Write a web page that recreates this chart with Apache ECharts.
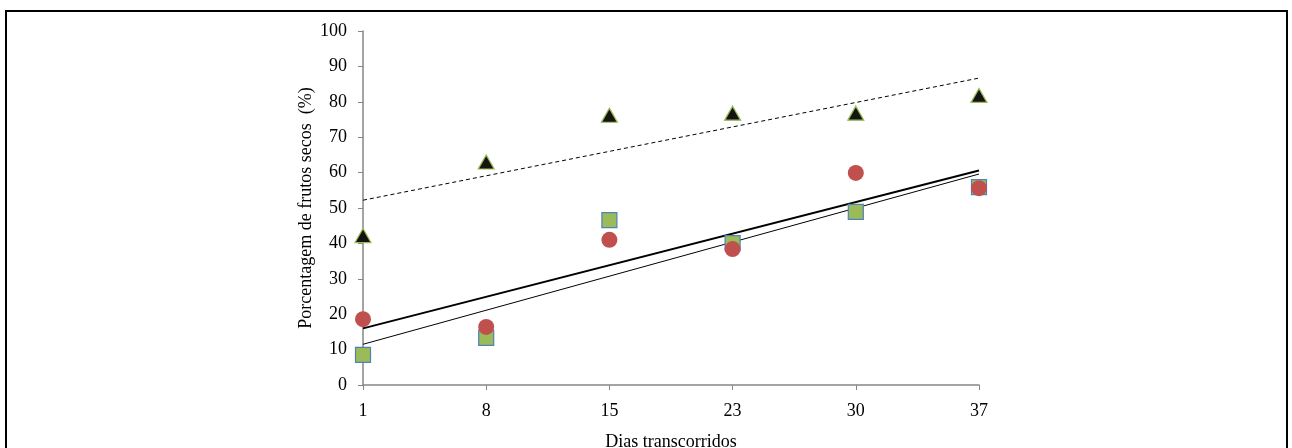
<!DOCTYPE html>
<html><head><meta charset="utf-8">
<script src="https://cdn.jsdelivr.net/npm/echarts@6/dist/echarts.min.js"></script>
<style>html,body{margin:0;padding:0;background:#fff}#c{width:1292px;height:448px}</style>
</head><body><div id="c"></div>
<script>
const categories = ['1','8','15','23','30','37'];
const triangles = [42.2, 63, 76.2, 76.8, 76.8, 81.8];
const circles = [18.6, 16.4, 41, 38.4, 59.9, 55.6];
const squares = [8.5, 13.3, 46.6, 40.1, 48.9, 55.9];
// trend line endpoints (first and last category)
const trendTriangles = [52.2, 86.7];
const trendCircles = [16.0, 60.6];
const trendSquares = [11.5, 59.6];
const yTicks = [0,10,20,30,40,50,60,70,80,90,100];

function endpoints(t){ const d = categories.map(()=> '-'); d[0]=t[0]; d[d.length-1]=t[1]; return d; }
const font = '"Liberation Serif", "Times New Roman", serif';
const chart = echarts.init(document.getElementById('c'), null, {renderer:'canvas'});
chart.setOption({
  animation:false,
  backgroundColor:'#fff',
  grid:{left:363,right:313,top:31,bottom:63,containLabel:false,outerBoundsMode:'none'},
  xAxis:{type:'category',data:categories,boundaryGap:false,
    name:'Dias transcorridos',nameLocation:'middle',nameGap:48,
    nameTextStyle:{fontFamily:font,fontSize:18,color:'#000'},
    axisLine:{lineStyle:{color:'#868686',width:1.5}},
    axisTick:{alignWithLabel:true,length:5,lineStyle:{color:'#868686'}},
    axisLabel:{fontFamily:font,fontSize:18,color:'#000',margin:17},
    splitLine:{show:false}},
  yAxis:{type:'value',min:yTicks[0],max:yTicks[yTicks.length-1],interval:10,
    name:'Porcentagem de frutos secos  (%)',nameLocation:'middle',nameGap:48,
    nameTextStyle:{fontFamily:font,fontSize:18,color:'#000'},
    axisLine:{show:true,lineStyle:{color:'#868686',width:1.5}},
    axisTick:{show:true,length:5,lineStyle:{color:'#868686'}},
    axisLabel:{fontFamily:font,fontSize:18,color:'#000',margin:16},
    splitLine:{show:false}},
  series:[
    {type:'line',data:endpoints(trendTriangles),connectNulls:true,showSymbol:false,symbol:'none',
      lineStyle:{color:'#000',width:1,type:[4,3]},z:1},
    {type:'line',data:endpoints(trendCircles),connectNulls:true,showSymbol:false,symbol:'none',
      lineStyle:{color:'#000',width:2},z:1},
    {type:'line',data:endpoints(trendSquares),connectNulls:true,showSymbol:false,symbol:'none',
      lineStyle:{color:'#000',width:1},z:1},
    {type:'scatter',data:triangles,symbol:'triangle',symbolSize:[16,14],
      itemStyle:{color:'#141410',borderColor:'#9bbb59',borderWidth:1.2,opacity:1},z:3},
    {type:'scatter',data:squares,symbol:'rect',symbolSize:15,
      itemStyle:{color:'#9bbb59',borderColor:'#4f81bd',borderWidth:1.2,opacity:1},z:3},
    {type:'scatter',data:circles,symbol:'circle',symbolSize:16,
      itemStyle:{color:'#c0504d',opacity:1},z:4}
  ],
  graphic:[{type:'rect',shape:{x:6,y:11,width:1281,height:500},
    style:{fill:'none',stroke:'#000',lineWidth:2},silent:true,z:10}]
});
</script></body></html>
